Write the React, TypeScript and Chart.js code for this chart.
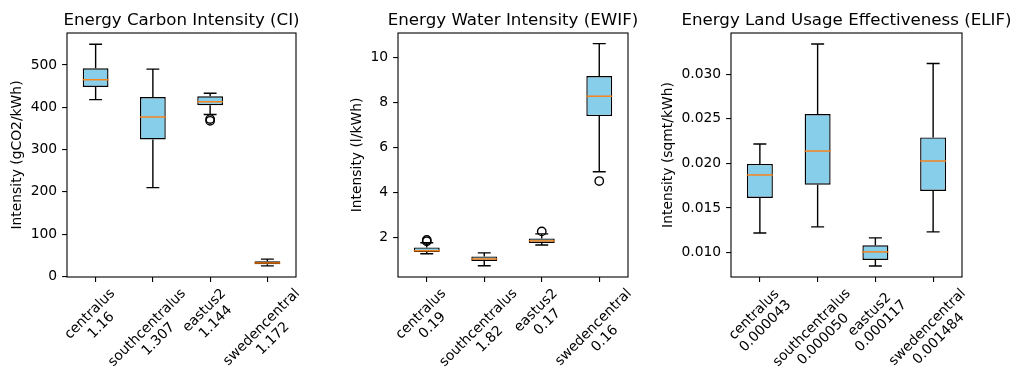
import React, { useEffect, useRef } from "react";
import { Chart, registerables } from "chart.js";

Chart.register(...registerables);

// ---------- data ----------
const regions = ["centralus", "southcentralus", "eastus2", "swedencentral"];

// Carbon intensity (gCO2/kWh)
const ciScaleLabels = ["1.16", "1.307", "1.144", "1.172"];
const ciLow = [418, 210, 383, 25];
const ciQ1 = [448, 324, 405, 29];
const ciMedian = [465, 377, 413, 32];
const ciQ3 = [492, 424, 426, 36];
const ciHigh = [549, 490, 433, 41];
const ciOutliers = [[], [], [372, 368], []];
const ciTicks = [0, 100, 200, 300, 400, 500];

// Water intensity (l/kWh)
const ewScaleLabels = ["0.19", "1.82", "0.17", "0.16"];
const ewLow = [1.29, 0.76, 1.68, 4.92];
const ewQ1 = [1.37, 0.97, 1.77, 7.39];
const ewMedian = [1.42, 1.06, 1.86, 8.27];
const ewQ3 = [1.57, 1.17, 1.97, 9.16];
const ewHigh = [1.78, 1.33, 2.17, 10.6];
const ewOutliers = [[1.84, 1.9], [], [2.28], [4.51]];
const ewTicks = [2, 4, 6, 8, 10];

// Land usage (sqmt/kWh)
const elScaleLabels = ["0.000043", "0.000050", "0.000117", "0.001484"];
const elLow = [0.0122, 0.01288, 0.00851, 0.01232];
const elQ1 = [0.01612, 0.01761, 0.00918, 0.01691];
const elMedian = [0.0187, 0.02138, 0.01008, 0.02026];
const elQ3 = [0.01993, 0.02552, 0.01082, 0.0229];
const elHigh = [0.02217, 0.03336, 0.01165, 0.03119];
const elOutliers = [[], [], [], []];
const elTicks = [0.01, 0.015, 0.02, 0.025, 0.03];

// ---------- styling / layout ----------
const FONT = "DejaVu Sans";
const TICK_SIZE = 13.89;
const TITLE_SIZE = 16.67;
const BOX_FILL = "#87CEEB";
const MEDIAN_COLOR = "#ff7f0e";
const LW = 1.4;
const PAGE_H = 390;
const PLOT_TOP = 33;
const PLOT_BOTTOM = 277;
const X_H = 100;

type PanelSpec = {
  title: string;
  yTitle: string;
  scaleLabels: string[];
  low: number[];
  q1: number[];
  median: number[];
  q3: number[];
  high: number[];
  outliers: number[][];
  ticks: number[];
  yMin: number;
  yMax: number;
  fmt: (v: number) => string;
  canvasLeft: number;
  canvasW: number;
  plotLeft: number;
  plotRight: number;
  yTitleCenter: number;
};

const panels: PanelSpec[] = [
  {
    title: "Energy Carbon Intensity (CI)",
    yTitle: "Intensity (gCO2/kWh)",
    scaleLabels: ciScaleLabels,
    low: ciLow, q1: ciQ1, median: ciMedian, q3: ciQ3, high: ciHigh,
    outliers: ciOutliers, ticks: ciTicks,
    yMin: -1.2, yMax: 575.5,
    fmt: (v) => String(v),
    canvasLeft: 0, canvasW: 330, plotLeft: 67, plotRight: 296, yTitleCenter: 17.5,
  },
  {
    title: "Energy Water Intensity (EWIF)",
    yTitle: "Intensity (l/kWh)",
    scaleLabels: ewScaleLabels,
    low: ewLow, q1: ewQ1, median: ewMedian, q3: ewQ3, high: ewHigh,
    outliers: ewOutliers, ticks: ewTicks,
    yMin: 0.26, yMax: 11.07,
    fmt: (v) => String(v),
    canvasLeft: 330, canvasW: 325, plotLeft: 398, plotRight: 628, yTitleCenter: 357.5,
  },
  {
    title: "Energy Land Usage Effectiveness (ELIF)",
    yTitle: "Intensity (sqmt/kWh)",
    scaleLabels: elScaleLabels,
    low: elLow, q1: elQ1, median: elMedian, q3: elQ3, high: elHigh,
    outliers: elOutliers, ticks: elTicks,
    yMin: 0.00727, yMax: 0.0346,
    fmt: (v) => v.toFixed(3),
    canvasLeft: 655, canvasW: 366, plotLeft: 731, plotRight: 962, yTitleCenter: 668.3,
  },
];

function Panel({ spec }: { spec: PanelSpec }) {
  const ref = useRef<HTMLCanvasElement>(null);

  useEffect(() => {
    const canvas = ref.current;
    if (!canvas) return;

    const yW = spec.plotLeft - spec.canvasLeft;
    const rightPad = spec.canvasLeft + spec.canvasW - spec.plotRight;
    const titleLineH = TICK_SIZE * 1.2;
    const yTitlePad = spec.yTitleCenter - spec.canvasLeft - titleLineH / 2;

    const outlierPoints: { x: string; y: number }[] = [];
    spec.outliers.forEach((arr, i) => arr.forEach((v) => outlierPoints.push({ x: regions[i], y: v })));

    const extras = {
      id: "boxExtras",
      afterDatasetsDraw(chart: any) {
        const { ctx, scales } = chart;
        const x = scales.x;
        const y = scales.y;
        const unit = x.getPixelForValue(1) - x.getPixelForValue(0);
        const boxHalf = unit * 0.225;
        const capHalf = unit * 0.1125;
        ctx.save();
        ctx.lineWidth = LW;
        for (let i = 0; i < regions.length; i++) {
          const cx = x.getPixelForValue(i);
          const yl = y.getPixelForValue(spec.low[i]);
          const y1 = y.getPixelForValue(spec.q1[i]);
          const y3 = y.getPixelForValue(spec.q3[i]);
          const yh = y.getPixelForValue(spec.high[i]);
          const ym = y.getPixelForValue(spec.median[i]);
          ctx.strokeStyle = "#000";
          ctx.beginPath();
          ctx.moveTo(cx, y1);
          ctx.lineTo(cx, yl);
          ctx.moveTo(cx, y3);
          ctx.lineTo(cx, yh);
          ctx.moveTo(cx - capHalf, yl);
          ctx.lineTo(cx + capHalf, yl);
          ctx.moveTo(cx - capHalf, yh);
          ctx.lineTo(cx + capHalf, yh);
          ctx.stroke();
          ctx.strokeStyle = MEDIAN_COLOR;
          ctx.beginPath();
          ctx.moveTo(cx - boxHalf, ym);
          ctx.lineTo(cx + boxHalf, ym);
          ctx.stroke();
        }
        ctx.restore();
      },
      afterDraw(chart: any) {
        const { ctx, chartArea, scales } = chart;
        const x = scales.x;
        ctx.save();
        // frame (spines)
        ctx.strokeStyle = "#000";
        ctx.lineWidth = 1.1;
        ctx.strokeRect(chartArea.left, chartArea.top, chartArea.right - chartArea.left, chartArea.bottom - chartArea.top);
        // title
        ctx.fillStyle = "#000";
        ctx.font = `${TITLE_SIZE}px "${FONT}"`;
        ctx.textAlign = "center";
        ctx.textBaseline = "alphabetic";
        ctx.fillText(spec.title, (chartArea.left + chartArea.right) / 2, chartArea.top - 8.3);
        // rotated x tick labels (matplotlib style: centered bbox)
        ctx.font = `${TICK_SIZE}px "${FONT}"`;
        const lineStep = 16.1;
        for (let i = 0; i < regions.length; i++) {
          const lines = [regions[i], spec.scaleLabels[i]];
          const w = Math.max(...lines.map((l) => ctx.measureText(l).width));
          const h = 13.4 + lineStep * (lines.length - 1);
          const cx = x.getPixelForValue(i);
          const cy = chartArea.bottom + 9.7 + ((w + h) * Math.SQRT1_2) / 2;
          ctx.save();
          ctx.translate(cx, cy);
          ctx.rotate(-Math.PI / 4);
          ctx.textAlign = "center";
          ctx.textBaseline = "middle";
          lines.forEach((l, k) => {
            ctx.fillText(l, 0, (k - (lines.length - 1) / 2) * lineStep);
          });
          ctx.restore();
        }
        ctx.restore();
      },
    };

    const chart = new Chart(canvas, {
      type: "bar",
      data: {
        labels: regions,
        datasets: [
          {
            type: "bar",
            data: regions.map((_, i) => [spec.q1[i], spec.q3[i]]) as any,
            backgroundColor: BOX_FILL,
            borderColor: "#000",
            borderWidth: LW,
            borderSkipped: false,
            barPercentage: 0.45,
            categoryPercentage: 1,
            grouped: false,
            order: 2,
          } as any,
          {
            type: "line",
            data: outlierPoints as any,
            showLine: false,
            pointRadius: 4.2,
            pointBackgroundColor: "rgba(0,0,0,0)",
            pointBorderColor: "#000",
            pointBorderWidth: LW,
            order: 1,
          } as any,
        ],
      },
      options: {
        animation: false,
        responsive: false,
        devicePixelRatio: 1,
        events: [],
        layout: { padding: { left: 0, right: rightPad, top: PLOT_TOP, bottom: PAGE_H - PLOT_BOTTOM - X_H } },
        plugins: {
          legend: { display: false },
          tooltip: { enabled: false },
        },
        scales: {
          x: {
            type: "category",
            offset: true,
            grid: { offset: false, drawOnChartArea: false, drawTicks: true, tickLength: 4.9, color: "#000", lineWidth: 1.1 },
            border: { display: false },
            ticks: { display: false },
            afterFit: (s: any) => {
              s.height = X_H;
            },
          },
          y: {
            type: "linear",
            min: spec.yMin,
            max: spec.yMax,
            afterBuildTicks: (s: any) => {
              s.ticks = spec.ticks.map((v) => ({ value: v }));
            },
            grid: { drawOnChartArea: false, drawTicks: true, tickLength: 4.9, color: "#000", lineWidth: 1.1 },
            border: { display: false },
            ticks: {
              autoSkip: false,
              padding: 4.9,
              color: "#000",
              font: { family: FONT, size: TICK_SIZE },
              callback: (v: any) => spec.fmt(Number(v)),
            },
            title: {
              display: true,
              text: spec.yTitle,
              color: "#000",
              font: { family: FONT, size: TICK_SIZE },
              padding: { top: yTitlePad, bottom: 0 },
            },
            afterFit: (s: any) => {
              s.width = yW;
            },
          },
        },
      } as any,
      plugins: [extras],
    });

    return () => chart.destroy();
  }, [spec]);

  return (
    <canvas
      ref={ref}
      width={spec.canvasW}
      height={PAGE_H}
      style={{ position: "absolute", left: spec.canvasLeft, top: 0, width: spec.canvasW, height: PAGE_H }}
    />
  );
}

export default function App() {
  return (
    <div style={{ position: "fixed", left: 0, top: 0, width: 1021, height: PAGE_H, background: "#fff", overflow: "hidden" }}>
      {panels.map((p) => (
        <Panel key={p.title} spec={p} />
      ))}
    </div>
  );
}
